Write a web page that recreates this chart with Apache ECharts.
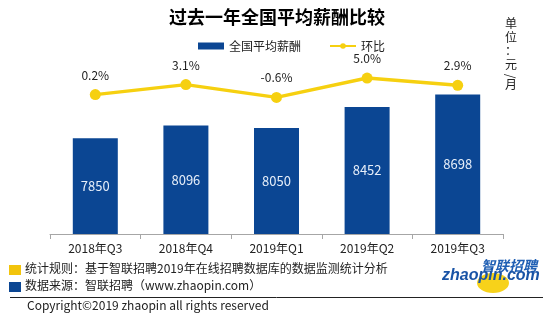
<!DOCTYPE html>
<html><head><meta charset="utf-8">
<script src="https://cdn.jsdelivr.net/npm/echarts@6/dist/echarts.min.js"></script>
<style>html,body{margin:0;padding:0;background:#fff}#c{width:554px;height:319px}</style>
</head><body><div id="c"></div>
<script>
const categories = ['2018年Q3','2018年Q4','2019年Q1','2019年Q2','2019年Q3'];
const salary = [7850, 8096, 8050, 8452, 8698];
const growth = [0.2, 3.1, -0.6, 5.0, 2.9];
const seriesNames = ['全国平均薪酬', '环比'];
const titleText = '过去一年全国平均薪酬比较';
const noteRule = '统计规则：基于智联招聘2019年在线招聘数据库的数据监测统计分析';
const noteSource = '数据来源：智联招聘（www.zhaopin.com）';
const copyright = 'Copyright©2019 zhaopin all rights reserved';

const FONT = '"Noto Sans CJK SC", "Microsoft YaHei", sans-serif';
const BLUE = '#0b4693';
const YELLOW = '#f6d010';
const chart = echarts.init(document.getElementById('c'), null, {renderer:'canvas'});
chart.setOption({
  backgroundColor: '#fff',
  animation: false,
  textStyle: {fontFamily: FONT},
  title: {text: titleText, left: 'center', top: 3,
    textStyle: {fontSize: 18, fontWeight: 'bold', color: '#000', fontFamily: FONT}},
  legend: {left: 193, top: 35, itemGap: 28, itemWidth: 26, itemHeight: 7,
    textStyle: {fontSize: 12, color: '#222', fontFamily: FONT},
    data: [{name: seriesNames[0], icon: 'rect'}, {name: seriesNames[1]}]},
  grid: {left: 50, right: 51, top: 27, bottom: 85},
  xAxis: {type: 'category', data: categories,
    axisLine: {onZero: false, lineStyle: {color: '#a6a6a6'}},
    axisTick: {show: true, length: 5, lineStyle: {color: '#a6a6a6'}},
    axisLabel: {fontSize: 12, color: '#222', margin: 8, fontFamily: FONT}},
  yAxis: [
    {type: 'value', min: 6000, max: 10000, show: false, splitLine: {show: false}},
    {type: 'value', min: -40.2, max: 19.8, show: false, splitLine: {show: false}}
  ],
  series: [
    {name: seriesNames[0], type: 'bar', data: salary, barWidth: 45, yAxisIndex: 0,
      itemStyle: {color: BLUE},
      label: {show: true, position: 'inside', color: '#e6eef9', fontSize: 13, fontFamily: FONT}},
    {name: seriesNames[1], type: 'line', data: growth, yAxisIndex: 1,
      symbol: 'circle', symbolSize: 11, z: 5,
      lineStyle: {color: YELLOW, width: 3.5}, itemStyle: {color: YELLOW},
      label: {show: true, position: 'top', distance: 8, color: '#222', fontSize: 12,
        fontFamily: FONT, formatter: p => p.value.toFixed(1) + '%'}}
  ],
  graphic: [
    {type: 'text', left: 505, top: 17, style: {text: '单\n位\n：\n元', font: '12px ' + FONT, lineHeight: 13.5, fill: '#222'}},
    {type: 'text', x: 511, y: 76, rotation: -Math.PI/2, originX: 0, originY: 0,
      style: {text: '/', font: '12px ' + FONT, fill: '#222', align: 'center', verticalAlign: 'middle'}},
    {type: 'text', left: 505, top: 78, style: {text: '月', font: '12px ' + FONT, fill: '#222'}},
    {type: 'rect', shape: {x: 9, y: 265, width: 12, height: 10}, style: {fill: '#f2c40c'}},
    {type: 'text', left: 25, top: 262, style: {text: noteRule, font: '12px ' + FONT, fill: '#222'}},
    {type: 'rect', shape: {x: 9, y: 282, width: 12, height: 10}, style: {fill: BLUE}},
    {type: 'text', left: 25, top: 279, style: {text: noteSource, font: '12px ' + FONT, fill: '#222'}},
    {type: 'line', shape: {x1: 10, y1: 297.5, x2: 543, y2: 297.5}, style: {stroke: '#222', lineWidth: 1}},
    {type: 'text', left: 27, top: 299, style: {text: copyright, font: '12px ' + FONT, fill: '#222'}},
    {type: 'ellipse', shape: {cx: 493, cy: 283, rx: 16, ry: 10}, style: {fill: '#f7d21a'}},
    {type: 'text', left: 481, top: 259, style: {text: '智联招聘', font: 'italic bold 14px ' + FONT, fill: '#1f5fb4'}},
    {type: 'text', left: 442, top: 268, style: {text: 'zhaopin.com', font: 'italic bold 16px "Liberation Sans", Arial, sans-serif', fill: '#1a54a6'}}
  ]
});
</script></body></html>
